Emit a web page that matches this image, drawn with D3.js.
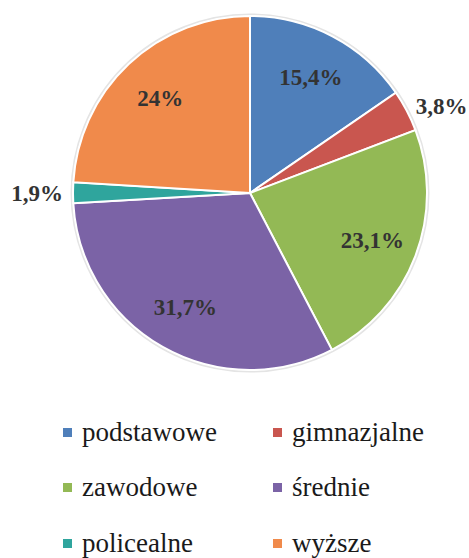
<!DOCTYPE html>
<html><head><meta charset="utf-8">
<script src="https://cdn.jsdelivr.net/npm/d3@7"></script>
<style>body{margin:0;background:#fff} text{font-family:"Times New Roman","Liberation Serif","Tinos","Noto Serif","DejaVu Serif",Times,serif}</style>
</head><body>
<svg id="c" width="469" height="558"></svg>
<script>
const categories = ["podstawowe","gimnazjalne","zawodowe","średnie","policealne","wyższe"];
const values = [15.4, 3.8, 23.1, 31.7, 1.9, 24];
const labels = ["15,4%","3,8%","23,1%","31,7%","1,9%","24%"];
const colors = ["#4f7fba","#c9564f","#93b955","#7b63a6","#2fa59d","#f08a4b"];
const outside = [false, true, false, false, true, false];

const svg = d3.select("#c");
const cx = 250, cy = 193, R = 177;
const g = svg.append("g").attr("transform", `translate(${cx},${cy})`);
const pie = d3.pie().sort(null).value(d => d)(values);
const arc = d3.arc().innerRadius(0).outerRadius(R);
g.append("circle").attr("r", R + 1.5).attr("fill", "none").attr("stroke", "#e4e4e4").attr("stroke-width", 2);
g.selectAll("path").data(pie).join("path")
  .attr("d", arc)
  .attr("fill", (d, i) => colors[i])
  .attr("stroke", "#fff").attr("stroke-width", 2);

const inArc = d3.arc().innerRadius(R * 0.74).outerRadius(R * 0.74);
const outArc = d3.arc().innerRadius(R + 10).outerRadius(R + 10);
g.selectAll("text.lbl").data(pie).join("text").attr("class", "lbl")
  .each(function(d, i) {
    const c = outside[i] ? outArc.centroid(d) : inArc.centroid(d);
    const mid = (d.startAngle + d.endAngle) / 2;
    d3.select(this).attr("x", c[0]).attr("y", c[1])
      .attr("text-anchor", outside[i] ? (mid < Math.PI ? "start" : "end") : "middle");
  })
  .attr("dy", "0.35em")
  .attr("font-weight", "bold").attr("font-size", 23)
  .attr("fill", "#333")
  .text((d, i) => labels[i]);

const leg = svg.append("g");
const colX = [63, 273], rowY = [432, 487, 543];
categories.forEach((c, i) => {
  const x = colX[i % 2], y = rowY[Math.floor(i / 2)];
  leg.append("rect").attr("x", x).attr("y", y - 4).attr("width", 9).attr("height", 9).attr("fill", colors[i]);
  leg.append("text").attr("x", x + 19).attr("y", y).attr("dy", "0.32em")
    .attr("font-size", 27).attr("fill", "#1a1a1a").text(c);
});
</script>
</body></html>
